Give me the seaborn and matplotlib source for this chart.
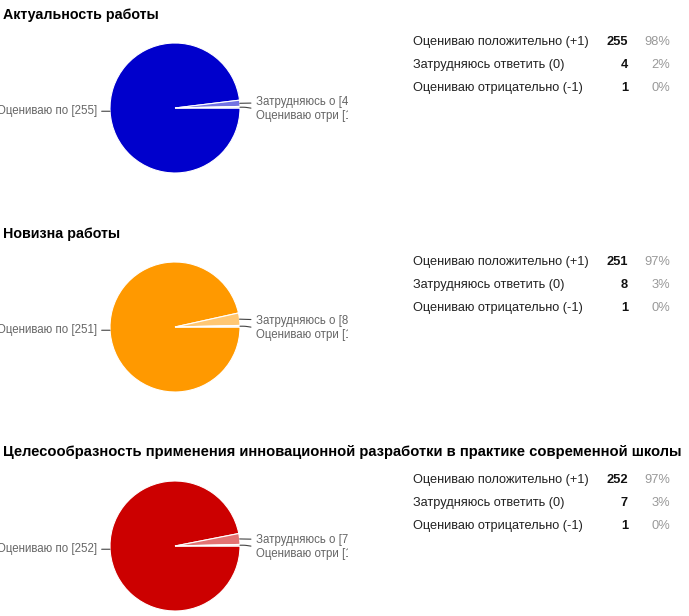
import numpy as np
import seaborn as sns
import matplotlib
matplotlib.use("Agg")
import matplotlib.pyplot as plt
from matplotlib.colors import to_rgb
from matplotlib.transforms import Bbox, TransformedBbox

# survey data
titles = [
    "Актуальность работы",
    "Новизна работы",
    "Целесообразность применения инновационной разработки в практике современной школы",
]
answers = [
    "Оцениваю положительно (+1)",
    "Затрудняюсь ответить (0)",
    "Оцениваю отрицательно (-1)",
]
short_labels = ["Оцениваю по", "Затрудняюсь о", "Оцениваю отри"]
counts_q1 = [255, 4, 1]
counts_q2 = [251, 8, 1]
counts_q3 = [252, 7, 1]
percents_q1 = ["98%", "2%", "0%"]
percents_q2 = ["97%", "3%", "0%"]
percents_q3 = ["97%", "3%", "0%"]
base_colors = ["#0000cc", "#ff9900", "#cc0000"]

sns.set_theme(style="white")
plt.rcParams["font.family"] = ["Liberation Sans", "DejaVu Sans"]

W, H = 689, 616
fig = plt.figure(figsize=(W / 100, H / 100), dpi=100)
fig.patch.set_facecolor("white")


def px(x, y):
    return x / W, 1 - y / H


def tint(c, t):
    r = np.array(to_rgb(c))
    return tuple(r + (1 - r) * t)


clip = TransformedBbox(Bbox([[0, 0], [348 / W, 1]]), fig.transFigure)

blocks = [
    (titles[0], counts_q1, percents_q1, base_colors[0], 0),
    (titles[1], counts_q2, percents_q2, base_colors[1], 219),
    (titles[2], counts_q3, percents_q3, base_colors[2], 438),
]
row_y = [[42, 65, 88], [262, 285, 308], [480, 503, 526]]

for i, (title, counts, pcts, col, off) in enumerate(blocks):
    fig.text(*px(3, 15 + off - (1 if i == 2 else 0)), title,
             fontsize=10.6 if i == 2 else 10.3,
             fontweight="bold", color="#000000", va="center", ha="left")

    # pie
    cx, cy, r = 175, 108 + off, 65
    ax = fig.add_axes([(cx - r) / W, 1 - (cy + r) / H, 2 * r / W, 2 * r / H])
    colors = [col, tint(col, 0.45), tint(col, 0.85)]
    wedges, _ = ax.pie(counts, colors=colors, startangle=0, counterclock=False,
                       wedgeprops=dict(edgecolor="white", linewidth=0.8))
    ax.set_xlim(-1, 1)
    ax.set_ylim(-1, 1)
    ax.set_aspect("equal")
    ax.axis("off")

    labels = [f"{s} [{c}]" for s, c in zip(short_labels, counts)]
    mids = [np.deg2rad((w.theta1 + w.theta2) / 2) for w in wedges]
    kw = dict(fontsize=8.3, color="#666666", va="center",
              arrowprops=dict(arrowstyle="-", color="#444444", lw=0.8,
                              shrinkA=1, shrinkB=0))
    ax.annotate(labels[0], xy=(-1, -0.05), xytext=(-1.2, -0.05), ha="right", **kw)
    t1 = ax.annotate(labels[1], xy=(np.cos(mids[1]), np.sin(mids[1])),
                     xytext=(1.24, 0.09), ha="left", **kw)
    kw2 = dict(kw)
    kw2["arrowprops"] = dict(arrowstyle="-", color="#444444", lw=0.8, shrinkA=1,
                             shrinkB=0,
                             connectionstyle="arc,angleA=180,angleB=0,armA=4,armB=5,rad=2")
    t2 = ax.annotate(labels[2], xy=(np.cos(mids[2]), np.sin(mids[2])),
                     xytext=(1.24, -0.12), ha="left", **kw2)
    for t in (t1, t2):
        t.set_clip_box(clip)
        t.set_clip_on(True)

    # table
    for j in range(3):
        y = row_y[i][j]
        fig.text(*px(413, y), answers[j], fontsize=9.2, color="#222222", va="center")
        fig.text(*px(628, y), str(counts[j]), fontsize=9.3, fontweight="bold",
                 color="#111111", va="center", ha="right")
        fig.text(*px(670, y), pcts[j], fontsize=9.3, color="#999999", va="center", ha="right")

fig.savefig("out.png", dpi=100, facecolor="white")
